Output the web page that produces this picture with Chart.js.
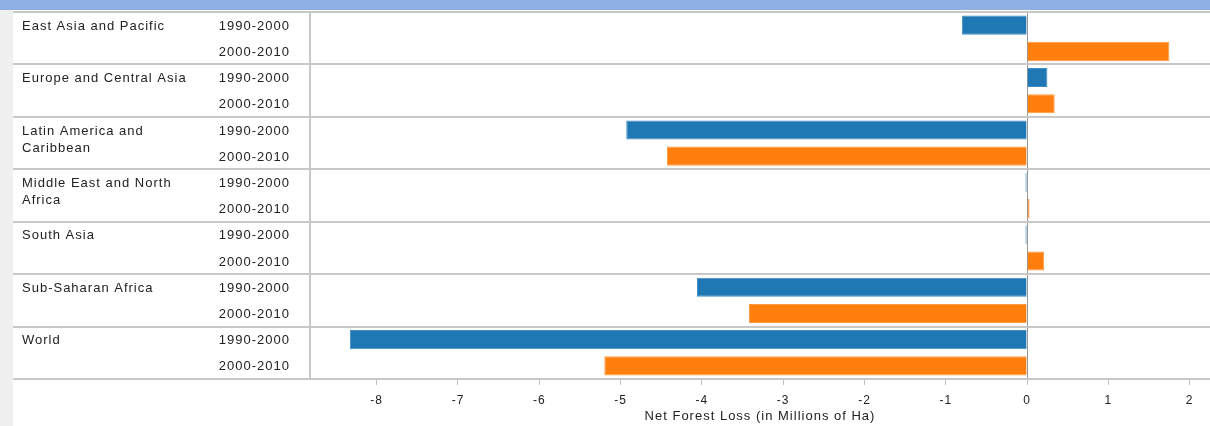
<!DOCTYPE html>
<html>
<head>
<meta charset="utf-8">
<script src="https://cdn.jsdelivr.net/npm/chart.js@4"></script>
<style>
  html, body { margin: 0; padding: 0; width: 1210px; height: 426px; overflow: hidden; background: #f0f0f0; }
  #topbar { position: absolute; left: 0; top: 0; width: 1210px; height: 10px; background: #8eb0e2; }
  #wrap { position: absolute; left: 13px; top: 10px; width: 1197px; height: 416px; background: #fff; }
</style>
</head>
<body>
<div id="topbar"></div>
<div id="wrap"><canvas id="chart"></canvas></div>
<script>
// Net forest loss by region, two decades per region.
const REGIONS = [
  ["East Asia and Pacific"],
  ["Europe and Central Asia"],
  ["Latin America and", "Caribbean"],
  ["Middle East and North", "Africa"],
  ["South Asia"],
  ["Sub-Saharan Africa"],
  ["World"],
];
const PERIODS = ["1990-2000", "2000-2010"];
const LOSS_1990_2000 = [-0.8, 0.25, -4.93, -0.02, -0.02, -4.06, -8.33];
const LOSS_2000_2010 = [1.75, 0.34, -4.43, 0.03, 0.21, -3.42, -5.2];

const X_MIN = -8.82;
const X_MAX = 2.25;
const AXIS_TITLE = "Net Forest Loss (in Millions of Ha)";

const FONT = "'Liberation Sans', Arial, sans-serif";
const TEXT = "#222";
const RULE = "#c8c8c8";

// The reference text is set a little looser than plain Arial.
const spacing = {
  id: "spacing",
  beforeDraw(chart) {
    chart.ctx.letterSpacing = "1px";
  },
};

// Region / period labels and the full-width separators are drawn on the
// left strip, positioned from the y scale.
const rowLabels = {
  id: "rowLabels",
  afterDraw(chart) {
    const { ctx, chartArea, scales: { y } } = chart;
    const band = y.getPixelForValue(1) - y.getPixelForValue(0);
    const rowH = band / PERIODS.length;
    ctx.save();
    ctx.strokeStyle = RULE;
    ctx.lineWidth = 2;
    for (let i = 0; i <= REGIONS.length; i++) {
      const py = Math.round(y.getPixelForValue(i) - band / 2);
      ctx.beginPath();
      ctx.moveTo(0, py);
      ctx.lineTo(chart.width, py);
      ctx.stroke();
    }
    ctx.font = "13px " + FONT;
    ctx.fillStyle = TEXT;
    ctx.textBaseline = "middle";
    REGIONS.forEach((lines, i) => {
      const top = y.getPixelForValue(i) - band / 2;
      ctx.textAlign = "left";
      lines.forEach((ln, k) => ctx.fillText(ln, 9, top + rowH / 2 + 1 + k * 17));
      ctx.textAlign = "right";
      PERIODS.forEach((p, k) => ctx.fillText(p, chartArea.left - 20, top + rowH * (k + 0.5) + 1));
    });
    ctx.restore();
  },
};

new Chart(document.getElementById("chart"), {
  type: "bar",
  data: {
    labels: REGIONS,
    datasets: [
      {
        label: PERIODS[0],
        data: LOSS_1990_2000,
        backgroundColor: "#1f77b4",
        borderColor: "#3f8cc6",
        borderWidth: 1,
        barPercentage: 0.73,
        categoryPercentage: 1,
      },
      {
        label: PERIODS[1],
        data: LOSS_2000_2010,
        backgroundColor: "#ff7f0e",
        borderColor: "#ff9a3e",
        borderWidth: 1,
        barPercentage: 0.73,
        categoryPercentage: 1,
      },
    ],
  },
  options: {
    indexAxis: "y",
    responsive: true,
    maintainAspectRatio: false,
    animation: false,
    layout: { padding: { top: 2, left: 0, right: 0, bottom: 0 } },
    plugins: { legend: { display: false }, tooltip: { enabled: false } },
    scales: {
      x: {
        type: "linear",
        min: X_MIN,
        max: X_MAX,
        ticks: { stepSize: 1, includeBounds: false, color: TEXT, padding: 8, font: { family: FONT, size: 12 } },
        grid: {
          color: (c) => (c.tick && c.tick.value === 0 ? "#999" : "rgba(0,0,0,0)"),
          borderDash: [1, 2],
          tickColor: "#c0c0c0",
          tickBorderDash: [],
          tickLength: 6,
        },
        border: { display: false },
        title: { display: true, text: AXIS_TITLE, color: TEXT, font: { family: FONT, size: 13 }, padding: { top: 2, bottom: 2 } },
        afterFit: (s) => { s.height = 47; },
      },
      y: {
        type: "category",
        ticks: { display: false },
        grid: { display: false },
        border: { display: true, color: RULE, width: 2 },
        afterFit: (s) => { s.width = 297; },
      },
    },
  },
  plugins: [spacing, rowLabels],
});
</script>
</body>
</html>
